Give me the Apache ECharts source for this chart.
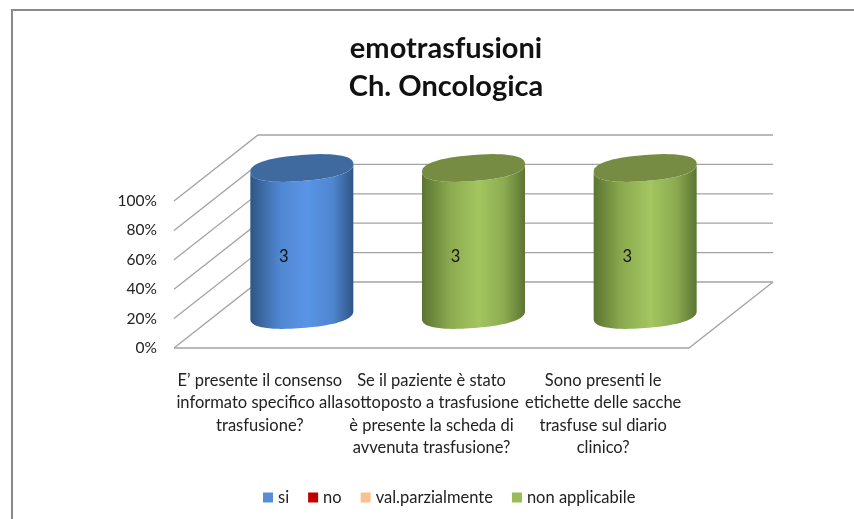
<!DOCTYPE html>
<html>
<head>
<meta charset="utf-8">
<style>
  html, body { margin: 0; padding: 0; background: #fff; }
  #chart { width: 854px; height: 519px; }
</style>
<script src="https://cdn.jsdelivr.net/npm/echarts@6/dist/echarts.min.js"></script>
</head>
<body>
<div id="chart"></div>
<script>
const categories = [
  'E’ presente il consenso\ninformato specifico alla\ntrasfusione?',
  'Se il paziente è stato\nsottoposto a trasfusione\nè presente la scheda di\navvenuta trasfusione?',
  'Sono presenti le\netichette delle sacche\ntrasfuse sul diario\nclinico?'
];
const si = [3, 0, 0];
const no = [0, 0, 0];
const valParzialmente = [0, 0, 0];
const nonApplicabile = [0, 3, 3];
const percentTicks = [0, 20, 40, 60, 80, 100];

const seriesList = [
  { name: 'si', values: si, color: '#558ed5', top: '#3f6a9f', edge: '#2f5585', mid: '#4f86d0', peak: '#5a94e6' },
  { name: 'no', values: no, color: '#c00000', top: '#900000', edge: '#700000', mid: '#b00000', peak: '#c80000' },
  { name: 'val.parzialmente', values: valParzialmente, color: '#fac090', top: '#bb9068', edge: '#917050', mid: '#e8b080', peak: '#fac090' },
  { name: 'non applicabile', values: nonApplicabile, color: '#9bbb59', top: '#768c43', edge: '#5b7532', mid: '#8cab50', peak: '#a3c660' }
];

// profondita del grafico 3D, in pixel
const depthX = 84;
const depthY = -66;
const barRatio = 0.6;
const tilt = 0.075; // inclinazione delle ellissi
const boxy = 0.85; // ellissi un po' squadrate come nell'originale

const totals = categories.map((c, i) => seriesList.reduce((acc, s) => acc + s.values[i], 0));

// cumulato percentuale fino alla serie idx, per la categoria i
function stackPercent(idx, i) {
  let sum = 0;
  for (let k = 0; k < idx; k++) sum += seriesList[k].values[i];
  return sum / totals[i] * 100;
}

function ellipsePoints(cx, cy, rx, ry, from, to) {
  const pts = [];
  for (let k = 0; k <= 60; k++) {
    const t = from + (to - from) * k / 60;
    const c = Math.cos(t);
    const sn = Math.sin(t);
    const x = rx * Math.sign(c) * Math.pow(Math.abs(c), boxy);
    const y = ry * Math.sign(sn) * Math.pow(Math.abs(sn), boxy);
    pts.push([cx + x, cy + y - x * tilt]);
  }
  return pts;
}

function renderWalls(params, api) {
  const v = api.value(1);
  const left = params.coordSys.x;
  const width = params.coordSys.width;
  const y = api.coord([0, v])[1];
  const children = [{
    type: 'polyline',
    shape: { points: [[left, y], [left + depthX, y + depthY], [left + width + depthX, y + depthY]] },
    style: { fill: null, stroke: '#a3a3a3', lineWidth: 1.3 }
  }];
  if (v === 0) {
    children.push({
      type: 'polyline',
      shape: { points: [[left, y], [left + width, y], [left + width + depthX, y + depthY]] },
      style: { fill: null, stroke: '#a3a3a3', lineWidth: 1.3 }
    });
  }
  return { type: 'group', children };
}

function renderCylinder(s, idx) {
  return function (params, api) {
    const i = params.dataIndex;
    const val = api.value(1);
    if (!val) return null;
    const from = stackPercent(idx, i);
    const to = from + val / totals[i] * 100;
    const start = api.coord([i, from]);
    const end = api.coord([i, to]);
    const rx = api.size([1, 0])[0] * barRatio / 2;
    const ry = 13;
    const cx = start[0] + depthX / 2;
    const cyBottom = start[1] + depthY / 2;
    const cyTop = end[1] + depthY / 2;

    const body = ellipsePoints(cx, cyBottom, rx, ry, 0, Math.PI)
      .concat(ellipsePoints(cx, cyTop, rx, ry, Math.PI, 0));
    const gradient = new echarts.graphic.LinearGradient(0, 0, 1, 0, [
      { offset: 0, color: s.edge },
      { offset: 0.28, color: s.mid },
      { offset: 0.55, color: s.peak },
      { offset: 0.8, color: s.mid },
      { offset: 1, color: s.edge }
    ]);
    const midY = (api.coord([i, (from + to) / 2])[1]) - 18;
    return {
      type: 'group',
      children: [
        { type: 'polygon', shape: { points: body }, style: { fill: gradient } },
        { type: 'polygon', shape: { points: ellipsePoints(cx, cyTop, rx, ry, 0, Math.PI * 2) }, style: { fill: s.top } },
        {
          type: 'text',
          style: { x: start[0] + 24, y: midY, text: String(val), fill: '#111', font: '16.5px Lato', align: 'center', verticalAlign: 'middle' }
        }
      ]
    };
  };
}

const chart = echarts.init(document.getElementById('chart'));
chart.setOption({
  animation: false,
  backgroundColor: '#fff',
  textStyle: { fontFamily: 'Lato' },
  title: {
    text: 'emotrasfusioni\nCh. Oncologica',
    left: 441,
    top: 25,
    textAlign: 'center',
    textStyle: { fontFamily: 'Lato', fontWeight: 'bold', fontSize: 29, lineHeight: 38, color: '#111' }
  },
  legend: {
    data: seriesList.map(s => s.name),
    top: 484,
    left: 258,
    icon: 'rect',
    itemWidth: 10,
    itemHeight: 10,
    itemGap: 19,
    textStyle: { fontFamily: 'Lato', fontSize: 16.5, color: '#222' }
  },
  grid: { left: 174, right: 165, top: 201, bottom: 171 },
  xAxis: {
    type: 'category',
    data: categories,
    axisLine: { show: false },
    axisTick: { show: false },
    axisLabel: { interval: 0, margin: 21, fontFamily: 'Lato', fontSize: 16.5, lineHeight: 22.5, color: '#222', align: 'center' }
  },
  yAxis: {
    type: 'value',
    min: 0,
    max: 100,
    interval: 20,
    axisLine: { show: false },
    axisTick: { show: false },
    splitLine: { show: false },
    axisLabel: { margin: 17, padding: [2, 0, 0, 0], fontFamily: 'Lato', fontSize: 15.5, color: '#222', formatter: '{value}%' }
  },
  graphic: [{
    type: 'polyline',
    silent: true,
    shape: { points: [[12, 519], [12, 10], [854, 10]] },
    style: { fill: null, stroke: '#8a8a8a', lineWidth: 2 }
  }],
  series: [{
    type: 'custom',
    name: 'pareti',
    silent: true,
    z: 1,
    renderItem: renderWalls,
    data: percentTicks.map(v => [0, v])
  }].concat(seriesList.map((s, idx) => ({
    type: 'custom',
    name: s.name,
    z: 2,
    itemStyle: { color: s.color },
    renderItem: renderCylinder(s, idx),
    data: s.values.map((v, i) => [i, v])
  })))
});
window.addEventListener('resize', () => chart.resize());
</script>
</body>
</html>
